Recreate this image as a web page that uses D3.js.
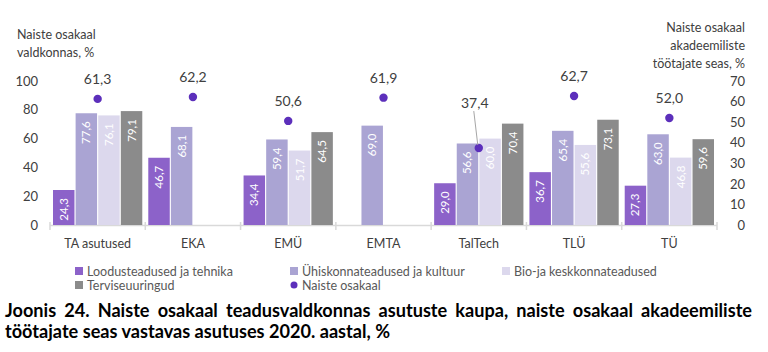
<!DOCTYPE html>
<html><head><meta charset="utf-8">
<script src="https://cdn.jsdelivr.net/npm/d3@7"></script>
<style>
html,body{margin:0;padding:0;background:#fff;}
text{font-family:Lato,"Open Sans",sans-serif;}
</style></head>
<body><svg id="c" width="768" height="352"></svg>
<script>
const categories = ["TA asutused","EKA","EMÜ","EMTA","TalTech","TLÜ","TÜ"];
const seriesNames = ["Loodusteadused ja tehnika","Ühiskonnateadused ja kultuur","Bio-ja keskkonnateadused","Terviseuuringud"];
const loodus   = [24.3, 46.7, 34.4, null, 29.0, 36.7, 27.3];
const yhiskond = [77.6, 68.1, 59.4, 69.0, 56.6, 65.4, 63.0];
const bio      = [76.1, null, 51.7, null, 60.0, 55.6, 46.8];
const tervis   = [79.1, null, 64.5, null, 70.4, 73.1, 59.6];
const naisteOsakaal = [61.3, 62.2, 50.6, 61.9, 37.4, 62.7, 52.0];
const leftTicks = [0,20,40,60,80,100];
const rightTicks = [0,10,20,30,40,50,60,70];
const colors = ["#8c62c9","#aaa4d3","#dcd8ed","#8b8b8b"];
const dotColor = "#5c2fbb";
const series = [loodus, yhiskond, bio, tervis];
const fmt = v => v.toFixed(1).replace(".", ",");

const svg = d3.select("#c");
const x0 = d3.scaleBand().domain(categories).range([50, 717]).paddingInner(0).paddingOuter(0);
const x1 = d3.scaleBand().domain(d3.range(4)).range([3, x0.bandwidth()-3]).paddingInner(0.05);
const yL = d3.scaleLinear().domain([0,100]).range([225, 81]);
const yR = d3.scaleLinear().domain([0,70]).range([225, 81]);
const textCol = "#404040";

// axis line with tick marks at band edges
const edges = categories.map(c => x0(c)).concat([x0.range()[1]]);
svg.append("line").attr("x1", 50).attr("x2", 717).attr("y1", yL(0)+0.5).attr("y2", yL(0)+0.5)
  .attr("stroke", "#d9d9d9").attr("stroke-width", 1.5);
svg.selectAll(".tk").data(edges).join("line")
  .attr("x1", d => d).attr("x2", d => d).attr("y1", yL(0)-3).attr("y2", yL(0)+5)
  .attr("stroke", "#d9d9d9").attr("stroke-width", 1.5);

// left axis
const gL = svg.append("g").attr("transform", "translate(38,0)")
  .call(d3.axisLeft(yL).tickValues(leftTicks).tickSize(0).tickPadding(0));
gL.select(".domain").remove();
gL.selectAll("text").attr("font-size", 13).attr("fill", textCol).style("font-family","Lato");

// right axis
const gR = svg.append("g").attr("transform", "translate(745,0)")
  .call(d3.axisRight(yR).tickValues(rightTicks).tickSize(0).tickPadding(0));
gR.select(".domain").remove();
gR.selectAll("text").attr("font-size", 13).attr("fill", textCol).attr("text-anchor","end").attr("x",0).style("font-family","Lato");

// titles
const tL = svg.append("text").attr("x", 17).attr("font-size", 12.5).attr("fill", textCol);
tL.append("tspan").attr("x",17).attr("y",39).text("Naiste osakaal");
tL.append("tspan").attr("x",17).attr("y",57).text("valdkonnas, %");
const tR = svg.append("text").attr("text-anchor","end").attr("font-size", 12.5).attr("fill", textCol);
tR.append("tspan").attr("x",745).attr("y",32).text("Naiste osakaal");
tR.append("tspan").attr("x",745).attr("y",50).text("akadeemiliste");
tR.append("tspan").attr("x",745).attr("y",68).text("töötajate seas, %");

// bars
const barData = [];
categories.forEach((c, i) => series.forEach((s, j) => {
  if (s[i] != null) barData.push({c, j, v: s[i]});
}));
const bars = svg.append("g");
bars.selectAll("rect").data(barData).join("rect")
  .attr("x", d => x0(d.c) + x1(d.j))
  .attr("width", x1.bandwidth())
  .attr("y", d => yL(d.v))
  .attr("height", d => yL(0) - yL(d.v))
  .attr("fill", d => colors[d.j]);
bars.selectAll("text").data(barData).join("text")
  .attr("transform", d => `translate(${x0(d.c) + x1(d.j) + x1.bandwidth()/2 + 4},${yL(d.v) + 8}) rotate(-90)`)
  .attr("text-anchor", "end").attr("font-size", 11.5).attr("fill", "#fff")
  .text(d => fmt(d.v));

// category labels
svg.selectAll(".cat").data(categories).join("text")
  .attr("x", d => x0(d) + x0.bandwidth()/2).attr("y", 248)
  .attr("text-anchor","middle").attr("font-size", 12.5).attr("fill", textCol).text(d => d);

// dots
const dots = categories.map((c, i) => ({c, v: naisteOsakaal[i]}));
svg.selectAll(".dot").data(dots).join("circle")
  .attr("cx", d => x0(d.c) + x0.bandwidth()/2).attr("cy", d => yR(d.v)).attr("r", 4.2).attr("fill", dotColor);
dots.forEach(d => {
  const cx = x0(d.c) + x0.bandwidth()/2, cy = yR(d.v);
  let lx = cx, ly = cy - 15;
  if (d.c === "TalTech") {
    lx = cx - 4; ly = cy - 40;
    svg.append("line").attr("x1", lx - 1).attr("y1", ly + 3).attr("x2", cx - 1).attr("y2", cy - 3)
      .attr("stroke", "#a6a6a6").attr("stroke-width", 1);
  }
  svg.append("text").attr("x", lx).attr("y", ly).attr("text-anchor","middle")
    .attr("font-size", 14).attr("fill", textCol).text(fmt(d.v));
});

// legend
const legItems = [
  {name: seriesNames[0], type: "rect", color: colors[0], x: 75, y: 271},
  {name: seriesNames[1], type: "rect", color: colors[1], x: 290, y: 271},
  {name: seriesNames[2], type: "rect", color: colors[2], x: 502, y: 271},
  {name: seriesNames[3], type: "rect", color: colors[3], x: 75, y: 285},
  {name: "Naiste osakaal", type: "dot", color: dotColor, x: 290, y: 285}
];
legItems.forEach(d => {
  if (d.type === "rect") svg.append("rect").attr("x", d.x).attr("y", d.y-4).attr("width", 8).attr("height", 8).attr("fill", d.color);
  else svg.append("circle").attr("cx", d.x+4).attr("cy", d.y).attr("r", 3.5).attr("fill", d.color);
  svg.append("text").attr("x", d.x + 12).attr("y", d.y + 4.5).attr("font-size", 12.5).attr("fill", "#595959").text(d.name);
});

// caption (justified first line)
const cap1 = "Joonis 24. Naiste osakaal teadusvaldkonnas asutuste kaupa, naiste osakaal akadeemiliste".split(" ");
const cap2 = "töötajate seas vastavas asutuses 2020. aastal, %";
const capG = svg.append("g").attr("font-size", 18).attr("font-weight", "bold").attr("fill", "#000");
const l2 = capG.append("text").attr("x", 5).attr("y", 338).text(cap2);
const nat2 = l2.node().getComputedTextLength();
const target2 = 385;
const s = target2 / nat2;
l2.attr("textLength", target2).attr("lengthAdjust", "spacingAndGlyphs");
const wEls = cap1.map(w => capG.append("text").attr("y", 317).text(w));
const ws = wEls.map(e => e.node().getComputedTextLength() * s);
const total = d3.sum(ws);
const gap = (752 - 5 - total) / (cap1.length - 1);
let cx = 5;
wEls.forEach((e, i) => {
  e.attr("x", cx).attr("textLength", ws[i]).attr("lengthAdjust", "spacingAndGlyphs");
  cx += ws[i] + gap;
});
</script></body></html>
